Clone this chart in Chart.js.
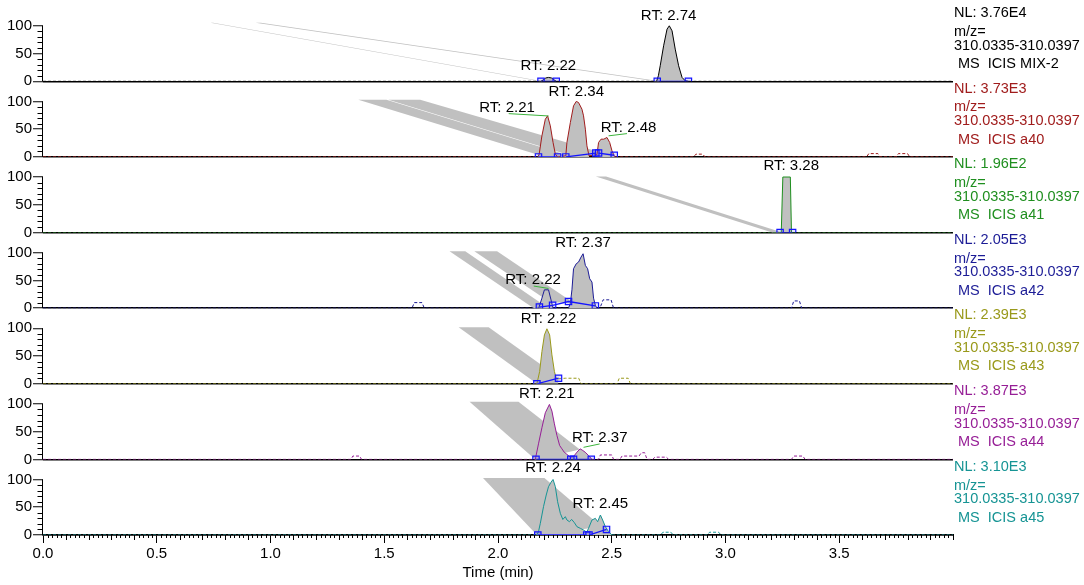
<!DOCTYPE html>
<html>
<head>
<meta charset="utf-8">
<script src="https://cdn.jsdelivr.net/npm/chart.js@4.4.1/dist/chart.umd.min.js"></script>
<style>
    html, body { margin: 0; padding: 0; background: #fff; }
    #chrom { display: block; }
</style>
</head>
<body>
<canvas id="chrom" width="1084" height="585"></canvas>
<script>
// Panel info
const sampleNames = ['MIX-2', 'a40', 'a41', 'a42', 'a43', 'a44', 'a45'];
const nlValues = ['3.76E4', '3.73E3', '1.96E2', '2.05E3', '2.39E3', '3.87E3', '3.10E3'];
const mzRange = '310.0335-310.0397';
const traceColors = ['#000000', '#a01c1c', '#1f8f1f', '#1c1c96', '#99991a', '#961e96', '#169494'];
const xTicks = [0, 0.5, 1.0, 1.5, 2.0, 2.5, 3.0, 3.5];
const yTicks = [0, 50, 100];

// Traces: [time (min), relative abundance]
const traceMix2 = [[0,0],[2.189,0],[2.200,3],[2.210,6],[2.222,7],[2.235,6],[2.245,3],[2.256,0],
    [2.697,0],[2.705,10],[2.713,28],[2.728,64],[2.743,94],[2.753,100],[2.765,91],[2.779,58],[2.794,28],[2.809,7],[2.823,1],[2.837,0],[4.0,0]];
const traceA40 = [[0,0],[2.176,0],[2.181,5],[2.193,38],[2.208,68],[2.218,74],[2.230,56],[2.242,26],[2.252,5],[2.262,0],
    [2.298,2],[2.303,26],[2.318,62],[2.332,92],[2.344,100],[2.354,98],[2.369,86],[2.376,74],[2.384,50],[2.391,20],[2.400,2],
    [2.435,4],[2.442,26],[2.453,32],[2.465,32],[2.479,35],[2.491,26],[2.501,11],[2.511,2],[2.515,0],
    [2.860,0],[2.870,5],[2.900,5],[2.910,0],[3.620,0],[3.630,6],[3.670,6],[3.680,0],[3.750,0],[3.760,6],[3.800,6],[3.810,0],[4.0,0]];
const traceA41 = [[0,0],[3.245,0],[3.252,100],[3.285,100],[3.290,0],[3.295,0],[4.0,0]];
const traceA42 = [[0,0],[1.622,0],[1.632,10],[1.666,10],[1.676,0],[2.179,0],[2.193,18],[2.204,33],[2.222,33],[2.233,15],[2.242,0],
    [2.310,0],[2.318,9],[2.325,33],[2.332,71],[2.344,80],[2.354,83],[2.365,92],[2.374,98],[2.384,77],[2.394,71],[2.403,53],[2.413,47],[2.420,18],[2.428,5],[2.435,0],
    [2.448,0],[2.462,15],[2.497,15],[2.508,0],[3.290,0],[3.300,13],[3.325,13],[3.335,0],[4.0,0]];
const traceA43 = [[0,0],[2.171,0],[2.183,22],[2.193,58],[2.204,88],[2.215,99],[2.227,88],[2.237,52],[2.248,22],[2.256,10],[2.266,9],
    [2.296,10],[2.355,10],[2.365,0],[2.523,0],[2.533,10],[2.572,10],[2.582,0],[4.0,0]];
const traceA44 = [[0,0],[1.354,0],[1.362,6],[1.392,6],[1.400,0],[2.164,0],[2.178,28],[2.193,57],[2.208,84],[2.226,99],[2.237,87],[2.248,64],
    [2.259,43],[2.271,25],[2.281,19],[2.291,13],[2.303,9],[2.318,4],[2.332,5],[2.347,13],[2.361,19],[2.373,16],[2.383,13],[2.398,7],[2.413,0],
    [2.442,0],[2.450,8],[2.500,8],[2.508,0],[2.536,0],[2.545,6],[2.620,6],[2.630,12],[2.645,12],[2.655,0],[2.680,0],[2.690,4],[2.740,4],[2.750,0],
    [3.290,0],[3.300,6],[3.340,6],[3.350,0],[4.0,0]];
const traceA45 = [[0,0],[2.171,0],[2.178,6],[2.186,21],[2.200,51],[2.212,72],[2.222,87],[2.233,95],[2.242,100],[2.252,87],[2.262,60],[2.274,39],
    [2.285,28],[2.296,33],[2.303,27],[2.314,24],[2.324,28],[2.336,22],[2.347,15],[2.362,12],[2.376,9],[2.390,5],[2.398,12],[2.413,27],[2.428,30],
    [2.438,24],[2.450,36],[2.460,27],[2.472,15],[2.486,6],[2.501,0],[2.715,0],[2.725,5],[2.760,5],[2.770,0],[2.920,0],[2.930,5],[2.970,5],[2.980,0],[4.0,0]];

// Integrated peak windows (solid line + grey fill)
const peaksMix2 = [[2.189,2.256],[2.697,2.837]];
const peaksA40 = [[2.176,2.262],[2.298,2.400],[2.435,2.515]];
const peaksA41 = [[3.240,3.295]];
const peaksA42 = [[2.179,2.242],[2.310,2.435]];
const peaksA43 = [[2.171,2.266]];
const peaksA44 = [[2.164,2.413]];
const peaksA45 = [[2.171,2.501]];

// Integration baselines (null = break)
const baseMix2 = [[2.189,0],[2.256,0],[2.500,null],[2.700,0],[2.837,0]];
const baseA40 = [[2.178,0],[2.262,0],[2.280,null],[2.298,0],[2.430,7],[2.436,null],[2.442,7],[2.511,3]];
const baseA41 = [[3.240,0],[3.295,0]];
const baseA42 = [[2.182,2],[2.240,5],[2.310,12],[2.428,4]];
const baseA43 = [[2.171,0],[2.266,10]];
const baseA44 = [[2.167,0],[2.320,0],[2.326,null],[2.332,0],[2.410,0]];
const baseA45 = [[2.175,0],[2.390,0],[2.395,null],[2.400,0],[2.477,10]];

// RT annotations: [time, height, text]
const rtMix2 = [[2.750,118.8,'RT: 2.74'],[2.221,28.1,'RT: 2.22']];
const rtA40 = [[2.040,88.7,'RT: 2.21'],[2.344,117.9,'RT: 2.34'],[2.574,52.9,'RT: 2.48']];
const rtA41 = [[3.289,120,'RT: 3.28']];
const rtA42 = [[2.374,117.9,'RT: 2.37'],[2.154,50.5,'RT: 2.22']];
const rtA43 = [[2.222,116.8,'RT: 2.22']];
const rtA44 = [[2.215,118.5,'RT: 2.21'],[2.447,38.5,'RT: 2.37']];
const rtA45 = [[2.242,121.3,'RT: 2.24'],[2.450,56.8,'RT: 2.45']];

// Green leader lines from labels to apex
const leadA40 = [[2.047,78],[2.222,73.8],[2.300,null],[2.486,38],[2.567,42]];
const leadA42 = [[2.157,39.8],[2.222,35.5]];
const leadA44 = [[2.376,21.7],[2.447,27.8]];

// Grey fill streaks (corners, in data units)
const streakMix2 = [[[0.736,105.7],[0.748,105.7],[2.195,0],[2.183,0]], [[0.934,105.7],[0.958,105.7],[2.712,0],[2.690,0]]];
const streakA40 = [[[1.386,103],[1.510,103],[2.332,0],[2.208,0]], [[1.518,103],[1.658,103],[2.480,5],[2.340,0]]];
const streakA41 = [[[2.430,101],[2.475,101],[3.250,0],[3.205,0]]];
const streakA42 = [[[1.787,102.5],[1.856,102.5],[2.222,0],[2.157,0]], [[1.896,102.5],[1.996,102.5],[2.330,10],[2.230,10]]];
const streakA43 = [[[1.827,102],[1.959,102],[2.256,15],[2.171,0]]];
const streakA44 = [[[1.875,103.6],[2.090,103.6],[2.360,18],[2.164,0]]];
const streakA45 = [[[1.934,102.7],[2.204,102.7],[2.455,15],[2.171,0]]];

const panels = [
    { trace: traceMix2, peaks: peaksMix2, base: baseMix2, rt: rtMix2, lead: [], streaks: streakMix2 },
    { trace: traceA40, peaks: peaksA40, base: baseA40, rt: rtA40, lead: leadA40, streaks: streakA40 },
    { trace: traceA41, peaks: peaksA41, base: baseA41, rt: rtA41, lead: [], streaks: streakA41 },
    { trace: traceA42, peaks: peaksA42, base: baseA42, rt: rtA42, lead: leadA42, streaks: streakA42 },
    { trace: traceA43, peaks: peaksA43, base: baseA43, rt: rtA43, lead: [], streaks: streakA43 },
    { trace: traceA44, peaks: peaksA44, base: baseA44, rt: rtA44, lead: leadA44, streaks: streakA44 },
    { trace: traceA45, peaks: peaksA45, base: baseA45, rt: rtA45, lead: [], streaks: streakA45 }
];

const FONT = "'Liberation Sans', Arial, sans-serif";
const peakFill = '#c0c0c0';
const clear = 'rgba(0,0,0,0)';
const toXY = pts => pts.map(([x, y]) => ({ x, y }));
const inWindow = (wins, t) => wins.some(([a, b]) => t >= a && t <= b);

const datasets = [];
panels.forEach((p, k) => {
    const yAxisID = 'y' + (k + 1);
    const midIn = c => inWindow(p.peaks, (c.p0.parsed.x + c.p1.parsed.x) / 2);

    datasets.push({
        data: toXY(p.trace), yAxisID, order: 1,
        borderColor: traceColors[k], borderWidth: 1, pointRadius: 0,
        fill: 'origin', backgroundColor: clear,
        segment: {
            borderDash: c => midIn(c) ? [] : [3, 2],
            backgroundColor: c => midIn(c) ? peakFill : clear
        }
    });

    datasets.push({
        data: toXY(p.base), yAxisID, order: 0, spanGaps: false, fill: false,
        borderColor: '#1414ff', borderWidth: 1.3,
        pointStyle: 'rect', pointRadius: 4.5, pointBorderWidth: 1.2,
        pointBorderColor: '#1414ff', pointBackgroundColor: 'rgba(60,60,255,0.15)'
    });

    if (p.lead.length) {
        datasets.push({
            data: toXY(p.lead), yAxisID, order: 0, spanGaps: false, fill: false,
            borderColor: '#3cb33c', borderWidth: 1, pointRadius: 0
        });
    }

    p.streaks.forEach(s => {
        datasets.push({
            data: toXY(s), yAxisID, order: 2,
            borderColor: clear, borderWidth: 1, pointRadius: 0,
            fill: 'shape', backgroundColor: peakFill
        });
    });
});

const scales = {
    x: {
        type: 'linear', position: 'bottom', min: 0, max: 4.0,
        afterBuildTicks: s => { s.ticks = xTicks.map(value => ({ value })); },
        afterFit: s => { s.height = 50; s.paddingLeft = 0; s.paddingRight = 0; },
        ticks: { callback: v => v.toFixed(1), color: '#000', font: { size: 15 }, maxRotation: 0, autoSkip: false, padding: 2 },
        grid: { drawOnChartArea: false, tickLength: 8, tickColor: '#000', tickWidth: 1 },
        border: { display: true, color: '#000', width: 1.5 },
        title: { display: true, text: 'Time (min)', color: '#000', font: { size: 15 }, padding: { top: 0, bottom: 3 } }
    }
};
panels.forEach((p, k) => {
    scales['y' + (k + 1)] = {
        type: 'linear', position: 'left', stack: 'chrom', stackWeight: 1, weight: panels.length - k,
        min: 0, max: 136.2,
        afterBuildTicks: s => { s.ticks = yTicks.map(value => ({ value })); },
        afterFit: s => { s.width = 43; s.paddingTop = 0; s.paddingBottom = 0; },
        ticks: { color: '#000', font: { size: 15 }, padding: 1, autoSkip: false },
        grid: {
            color: c => (c.tick && c.tick.value === 0) ? '#000' : clear,
            lineWidth: 1.5, tickColor: '#000', tickWidth: 1, tickLength: 10
        },
        border: { display: false }
    };
});

// Axis spines, minor ticks and all annotation text
const chromDecor = {
    id: 'chromDecor',
    afterDraw(chart) {
        const ctx = chart.ctx;
        const area = chart.chartArea;
        const xs = chart.scales.x;
        ctx.save();
        ctx.strokeStyle = '#000';
        ctx.lineWidth = 1;

        for (let i = 0; i <= 200; i++) {
            if (i % 25 === 0 && i < 200) continue;
            const px = Math.round(xs.getPixelForValue(i * 0.02)) + 0.5;
            const len = i % 5 === 0 ? 5 : 3;
            ctx.beginPath();
            ctx.moveTo(px, area.bottom);
            ctx.lineTo(px, area.bottom + len);
            ctx.stroke();
        }

        const lineOffsets = [-64.3, -45.5, -31.7, -13.3];
        panels.forEach((p, k) => {
            const ys = chart.scales['y' + (k + 1)];
            const x0 = Math.round(area.left) - 0.5;
            ctx.strokeStyle = '#000';
            ctx.beginPath();
            ctx.moveTo(x0, ys.getPixelForValue(0));
            ctx.lineTo(x0, ys.getPixelForValue(100));
            ctx.stroke();
            for (let v = 10; v < 100; v += 10) {
                if (v === 50) continue;
                const py = Math.round(ys.getPixelForValue(v)) + 0.5;
                ctx.beginPath();
                ctx.moveTo(x0 - 5, py);
                ctx.lineTo(x0, py);
                ctx.stroke();
            }

            ctx.fillStyle = '#000';
            ctx.font = '15px ' + FONT;
            ctx.textAlign = 'center';
            ctx.textBaseline = 'middle';
            p.rt.forEach(([t, v, text]) => {
                ctx.fillText(text, xs.getPixelForValue(t), ys.getPixelForValue(v));
            });

            const y0 = ys.getPixelForValue(0);
            const tx = area.right + 1;
            ctx.fillStyle = traceColors[k];
            ctx.font = '14.5px ' + FONT;
            ctx.textAlign = 'left';
            ctx.textBaseline = 'alphabetic';
            const lines = ['NL: ' + nlValues[k], 'm/z=', mzRange, ' MS  ICIS ' + sampleNames[k]];
            lines.forEach((txt, j) => ctx.fillText(txt, tx, y0 + lineOffsets[j]));
        });
        ctx.restore();
    }
};

Chart.defaults.font.family = FONT;

new Chart(document.getElementById('chrom'), {
    type: 'line',
    data: { datasets },
    options: {
        responsive: false,
        animation: false,
        devicePixelRatio: 1,
        events: [],
        layout: { padding: { left: 0, right: 131, top: 3, bottom: 0 } },
        plugins: { legend: { display: false }, tooltip: { enabled: false } },
        scales
    },
    plugins: [chromDecor]
});
</script>
</body>
</html>
